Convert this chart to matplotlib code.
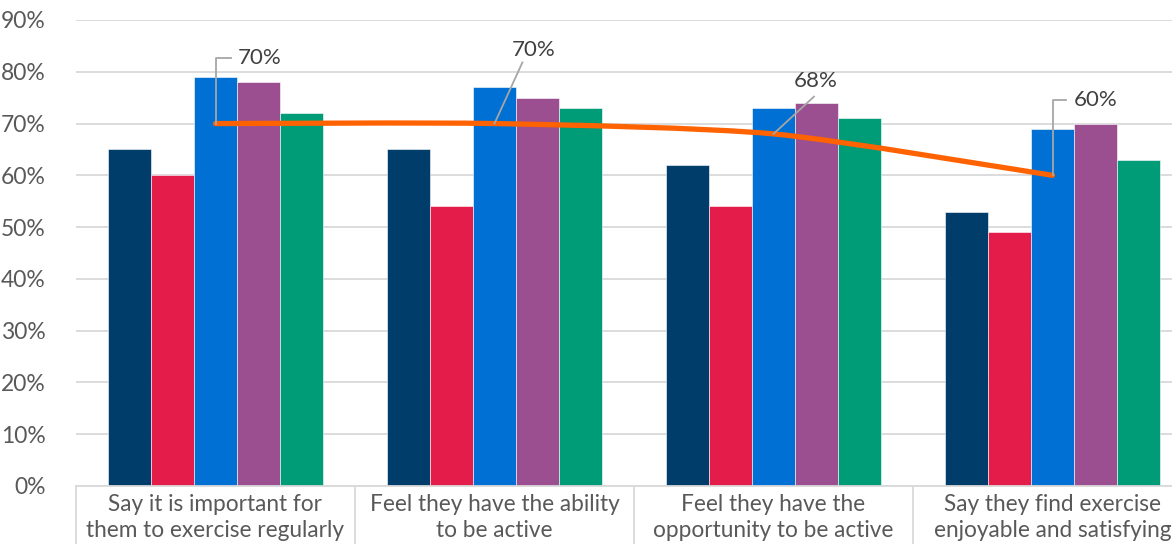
import matplotlib
matplotlib.use("Agg")
import matplotlib.pyplot as plt
from matplotlib.path import Path
from matplotlib.patches import PathPatch
import numpy as np

plt.rcParams['font.family'] = ['Lato', 'DejaVu Sans']

categories = [
    "Say it is important for\nthem to exercise regularly",
    "Feel they have the ability\nto be active",
    "Feel they have the\nopportunity to be active",
    "Say they find exercise\nenjoyable and satisfying",
]
series_a = [65, 65, 62, 53]
series_b = [60, 54, 54, 49]
series_c = [79, 77, 73, 69]
series_d = [78, 75, 74, 70]
series_e = [72, 73, 71, 63]
line_vals = [70, 70, 68, 60]
line_labels = ["70%", "70%", "68%", "60%"]
yticks = [0, 10, 20, 30, 40, 50, 60, 70, 80, 90]

colors = ["#003D6B", "#E31C4A", "#0070D4", "#9B4F90", "#009B77"]
orange = "#FF6200"
txt = "#595959"

fig = plt.figure(figsize=(11.72, 5.44), dpi=100)
left = 76 / 1172
width = (4 * 279) / 1172
bottom = 1 - 486 / 544
top = 1 - 20 / 544
ax = fig.add_axes([left, bottom, width, top - bottom])

x = np.arange(len(categories))
bw = 0.154
all_series = [series_a, series_b, series_c, series_d, series_e]
for i, s in enumerate(all_series):
    ax.bar(x + (i - 2) * bw, s, width=bw, color=colors[i], edgecolor="white",
           linewidth=0.4, zorder=2)

# smoothed line via Bezier path through data points
pts = np.column_stack([x, line_vals]).astype(float)
verts = [tuple(pts[0])]
codes = [Path.MOVETO]
n = len(pts)
t = 0.12
for i in range(n - 1):
    p0 = pts[i - 1] if i > 0 else pts[i]
    p1 = pts[i]
    p2 = pts[i + 1]
    p3 = pts[i + 2] if i + 2 < n else pts[i + 1]
    c1 = p1 + (p2 - p0) * t
    c2 = p2 - (p3 - p1) * t
    verts += [tuple(c1), tuple(c2), tuple(p2)]
    codes += [Path.CURVE4] * 3
ax.add_patch(PathPatch(Path(verts, codes), facecolor="none", edgecolor=orange,
                       linewidth=3.8, zorder=4, capstyle="round"))

ax.set_xlim(-0.5, 3.5)
ax.set_ylim(0, 90)
ax.set_yticks(yticks)
ax.set_yticklabels([f"{v}%" for v in yticks])
ax.tick_params(axis="y", length=0, labelsize=16.5, labelcolor=txt, pad=22)
ax.tick_params(axis="x", length=0, labelbottom=False)
ax.grid(axis="y", color="#D9D9D9", linewidth=1.3, zorder=0)
ax.set_axisbelow(True)
for sp in ["top", "right", "left"]:
    ax.spines[sp].set_visible(False)
ax.spines["bottom"].set_color("#D9D9D9")
ax.spines["bottom"].set_linewidth(1.3)

# category separators
for b in np.arange(-0.5, 3.6, 1.0):
    ax.plot([b, b], [0, -12], color="#D9D9D9", linewidth=1.3, clip_on=False, zorder=1)

for i, c in enumerate(categories):
    ax.text(x[i], -1.5, c, ha="center", va="top", fontsize=16.3, color=txt,
            linespacing=1.32, clip_on=False)

# data labels with leader lines
lab_col = "#404040"
lead = "#A6A6A6"
fs = 16
# label 1: elbow leader
ax.plot([x[0], x[0], x[0] + 0.055], [line_vals[0], 82.6, 82.6], color=lead, lw=1.3, zorder=5)
ax.text(x[0] + 0.08, 82.6, line_labels[0], ha="left", va="center", fontsize=fs, color=lab_col)
# label 2: diagonal leader
ax.plot([x[1], x[1] + 0.1], [line_vals[1], 81.8], color=lead, lw=1.3, zorder=5)
ax.text(x[1] + 0.14, 84.3, line_labels[1], ha="center", va="center", fontsize=fs, color=lab_col)
# label 3: diagonal leader
ax.plot([x[2], x[2] + 0.145], [line_vals[2], 75.2], color=lead, lw=1.3, zorder=5)
ax.text(x[2] + 0.15, 78.3, line_labels[2], ha="center", va="center", fontsize=fs, color=lab_col)
# label 4: elbow leader
ax.plot([x[3], x[3], x[3] + 0.05], [line_vals[3], 74.5, 74.5], color=lead, lw=1.3, zorder=5)
ax.text(x[3] + 0.077, 74.5, line_labels[3], ha="left", va="center", fontsize=fs, color=lab_col)

fig.savefig("out.png", dpi=100)
